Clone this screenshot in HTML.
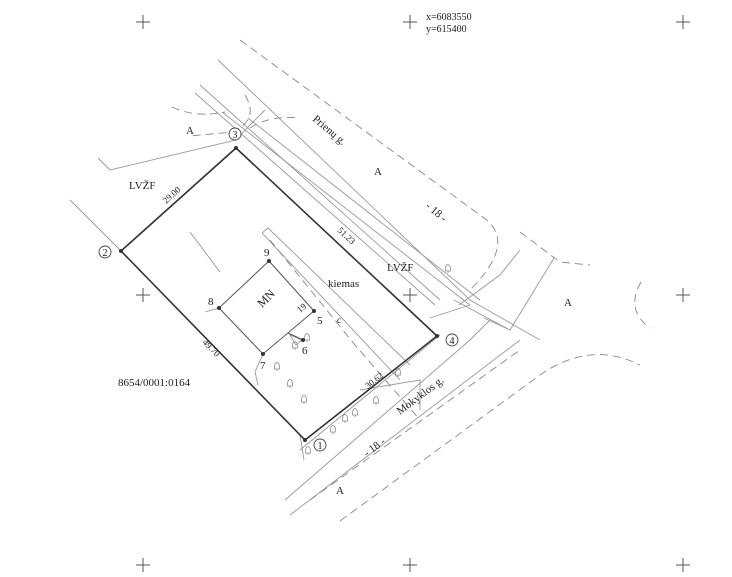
<!DOCTYPE html>
<html><head><style>
html,body{margin:0;padding:0;background:#fff}
svg{display:block}
text{font-family:"Liberation Serif",serif;fill:#222}
</style></head><body>
<svg width="732" height="577" viewBox="0 0 732 577" xmlns="http://www.w3.org/2000/svg">
<defs>
<g id="tr"><path d="M-2.5 3 Q-3 -3 0 -3.5 Q3 -3 2.5 3 Z M-2.5 3 h5 M0 3 v2" stroke="#888" stroke-width="0.8" fill="none"/></g>
</defs>
<g stroke="#555" stroke-width="1" fill="none">
<path d="M136 22h14M143 15v14M403 22h14M410 15v14M676 22h14M683 15v14M136 295h14M143 288v14M403 295h14M410 288v14M676 295h14M683 288v14M136 565h14M143 558v14M403 565h14M410 558v14M676 565h14M683 558v14"/>
</g>
<g stroke="#999" stroke-width="0.9" fill="none">
<path d="M218 60 L470 300 L540 340"/>
<path d="M200 85 L440 300"/>
<path d="M195 93 L435 305"/>
<path d="M222 112 L470 305"/>
<path d="M248 118 L480 300"/>
<path d="M98 158 L110 170 L236 140 L250 125 L265 110"/>
<path d="M70 200 L121 251"/>
<path d="M484 318 L510 330 L554 258 M454 300 L510 330"/>
<path d="M459 305 L500 275 L520 250"/>
<path d="M290 515 L520 340"/>
<path d="M285 500 L470 340 L490 320"/>
<path d="M300 450 L440 335"/>
<path d="M430 318 L470 305"/>
<path d="M125 255 L300 435 L304 460"/>
<path d="M190 232 L220 272"/>
<path d="M262 233 L268 228 L410 365"/>
<path d="M262 233 L400 380"/>
<path d="M219 308 L205 312"/>
<path d="M263 354 L255 372 L258 385"/>
<path d="M290 335 L302 340 L296 345 Z"/>
<path d="M360 390 L420 380 L420 410"/>
</g>
<g stroke="#888" stroke-width="0.9" fill="none" stroke-dasharray="8,5">
<path d="M240 40 L480 215 Q520 240 470 290"/>
<path d="M245 95 Q260 120 232 132 L190 136 M172 107 Q195 118 225 112"/>
<path d="M250 128 Q270 115 300 118"/>
<path d="M270 240 L355 345 L420 420"/>
<path d="M340 521 L540 375 Q590 340 640 365"/>
<path d="M520 232 L560 262 L590 265"/>
<path d="M641 282 Q625 310 650 328"/>
<path d="M310 500 L520 350"/>
</g>
<g stroke="#333" stroke-width="1.6" fill="none">
<path d="M121 251 L236 148 L437 336 L305 440 Z"/>
</g>
<g stroke="#555" stroke-width="1" fill="none">
<path d="M219 308 L269 261 L314 311 L263 354 Z"/>
<path d="M288 333 L303 340"/>
</g>
<use href="#tr" x="448" y="268"/><use href="#tr" x="277" y="366"/><use href="#tr" x="290" y="383"/>
<use href="#tr" x="304" y="399"/><use href="#tr" x="307" y="337"/><use href="#tr" x="295" y="345"/>
<use href="#tr" x="398" y="372"/><use href="#tr" x="345" y="418"/><use href="#tr" x="355" y="412"/>
<use href="#tr" x="333" y="429"/><use href="#tr" x="308" y="450"/><use href="#tr" x="376" y="400"/>
<g fill="#333">
<circle cx="121" cy="251" r="2"/><circle cx="236" cy="148" r="2"/><circle cx="437" cy="336" r="2"/><circle cx="305" cy="440" r="2"/>
<circle cx="269" cy="261" r="2"/><circle cx="314" cy="311" r="2"/><circle cx="263" cy="354" r="2"/><circle cx="219" cy="308" r="2"/><circle cx="303" cy="340" r="2"/>
</g>
<g stroke="#444" fill="#fff" stroke-width="0.9">
<circle cx="105" cy="252" r="6"/><circle cx="235" cy="134" r="6"/><circle cx="452" cy="340" r="6"/><circle cx="320" cy="445" r="6"/>
</g>
<g font-size="10" text-anchor="middle">
<text x="105" y="256">2</text><text x="235" y="138">3</text><text x="452" y="344">4</text><text x="320" y="449">1</text>
</g>
<g font-size="11">
<text x="264" y="256">9</text><text x="317" y="324">5</text><text x="302" y="354">6</text><text x="260" y="369">7</text><text x="208" y="305">8</text>
<text x="129" y="189">LVŽF</text><text x="387" y="271">LVŽF</text>
<text x="328" y="287">kiemas</text>
<text x="337" y="323" font-size="9">c</text>
<text x="186" y="134">A</text><text x="374" y="175">A</text><text x="564" y="306">A</text><text x="336" y="494">A</text>
<text x="118" y="386">8654/0001:0164</text>
<text x="426" y="20" font-size="10">x=6083550</text><text x="426" y="32" font-size="10">y=615400</text>
</g>
<g font-size="9">
<text transform="translate(262,308) rotate(-45)" font-size="12">MN</text>
<text transform="translate(166,204) rotate(-42)">29.00</text>
<text transform="translate(337,231) rotate(43)">51.23</text>
<text transform="translate(202,343) rotate(45)">49.70</text>
<text transform="translate(368,389) rotate(-38)">30.62</text>
<text transform="translate(300,313) rotate(-40)">19</text>
<text transform="translate(312,120) rotate(40)" font-size="11">Prienų g.</text>
<text transform="translate(400,415) rotate(-37)" font-size="11">Mokyklos g.</text>
<text transform="translate(425,207) rotate(40)" font-size="11">- 18 -</text>
<text transform="translate(367,457) rotate(-37)" font-size="11">- 18 -</text>
</g>
</svg>
</body></html>
